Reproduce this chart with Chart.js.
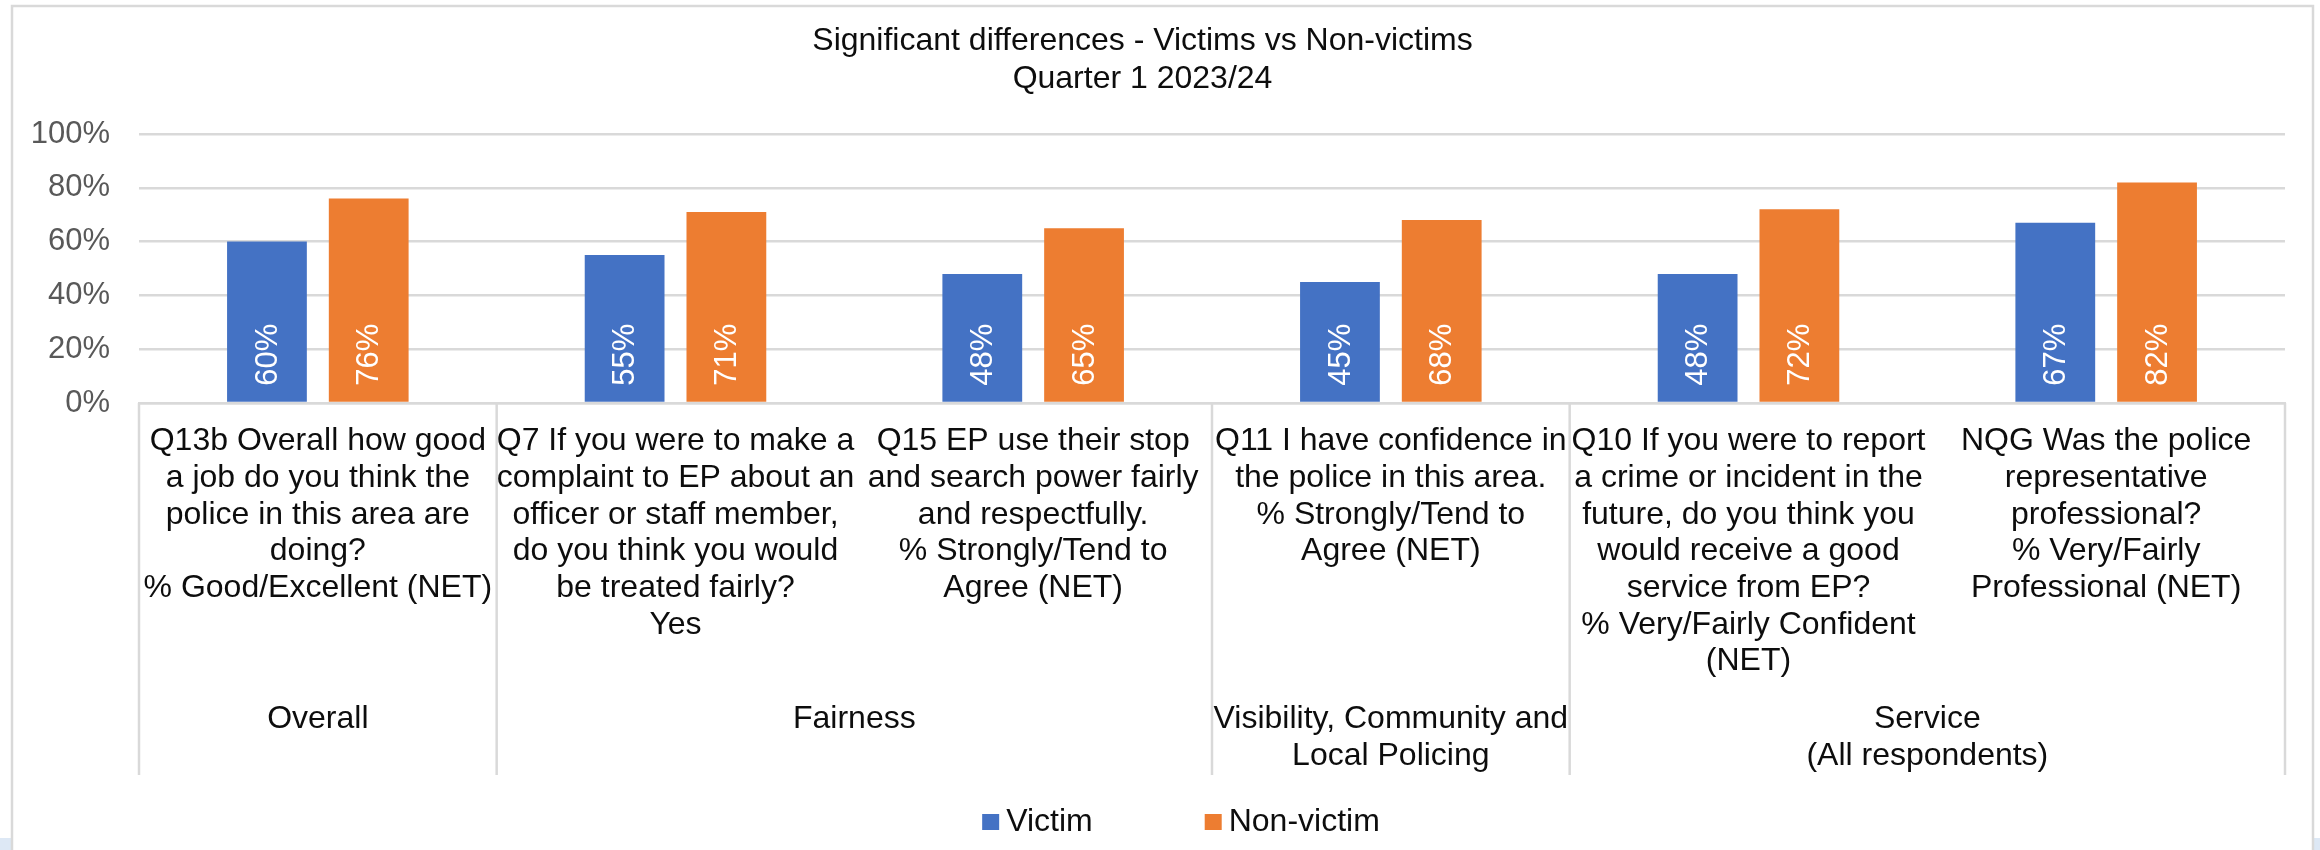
<!DOCTYPE html>
<html>
<head>
<meta charset="utf-8">
<title>Significant differences - Victims vs Non-victims</title>
<script src="https://cdn.jsdelivr.net/npm/chart.js@4.4.0/dist/chart.umd.min.js"></script>
<style>
  html, body { margin: 0; padding: 0; background: #ffffff; }
  #wrap { width: 2320px; height: 850px; position: relative; }
  canvas { display: block; }
</style>
</head>
<body>
<div id="wrap"><canvas id="chart" width="2320" height="850"></canvas></div>
<script>
// Question labels (one per category), pre-wrapped into lines
const categories = [
  ["Q13b Overall how good", "a job do you think the", "police in this area are", "doing?", "% Good/Excellent (NET)"],
  ["Q7 If you were to make a", "complaint to EP about an", "officer or staff member,", "do you think you would", "be treated fairly?", "Yes"],
  ["Q15 EP use their stop", "and search power fairly", "and respectfully.", "% Strongly/Tend to", "Agree (NET)"],
  ["Q11 I have confidence in", "the police in this area.", "% Strongly/Tend to", "Agree (NET)"],
  ["Q10 If you were to report", "a crime or incident in the", "future, do you think you", "would receive a good", "service from EP?", "% Very/Fairly Confident", "(NET)"],
  ["NQG Was the police", "representative", "professional?", "% Very/Fairly", "Professional (NET)"]
];

// Theme groups for the second label row and how many questions each covers
const groupNames = [
  ["Overall"],
  ["Fairness"],
  ["Visibility, Community and", "Local Policing"],
  ["Service", "(All respondents)"]
];
const groupSizes = [1, 2, 1, 2];

// Percentages per series
const victim = [60, 55, 48, 45, 48, 67];
const nonVictim = [76, 71, 65, 68, 72, 82];

// Value axis
const yMin = 0;
const yMax = 100;
const yStep = 20;

const titleLines = ["Significant differences - Victims vs Non-victims", "Quarter 1 2023/24"];
const seriesNames = ["Victim", "Non-victim"];
const seriesColors = ["#4472C4", "#ED7D31"];

const FONT = "'Liberation Sans', Arial, Helvetica, sans-serif";
const GRID = "#d9d9d9";

// White page, outer frame of the chart object
const framePlugin = {
  id: 'frame',
  beforeDraw(chart) {
    const ctx = chart.ctx;
    ctx.save();
    ctx.fillStyle = '#ffffff';
    ctx.fillRect(0, 0, chart.width, chart.height);
    ctx.fillStyle = '#dde8f5';
    ctx.fillRect(0, 838, 11, 12);
    ctx.fillRect(2314, 838, 6, 12);
    ctx.strokeStyle = GRID;
    ctx.lineWidth = 2.5;
    ctx.beginPath();
    ctx.moveTo(12, 850);
    ctx.lineTo(12, 6);
    ctx.lineTo(2313, 6);
    ctx.lineTo(2313, 850);
    ctx.stroke();
    ctx.restore();
  }
};

// Second category level: group separators and group names under the question labels
const groupAxisPlugin = {
  id: 'groupAxis',
  afterDraw(chart) {
    const xs = chart.scales.x;
    const ctx = chart.ctx;
    const edges = [xs.left];
    let idx = 0;
    groupSizes.forEach(n => {
      idx += n;
      if (idx < categories.length) {
        edges.push((xs.getPixelForValue(idx - 1) + xs.getPixelForValue(idx)) / 2);
      } else {
        edges.push(xs.right);
      }
    });
    ctx.save();
    ctx.strokeStyle = GRID;
    ctx.lineWidth = 2.5;
    edges.forEach(e => {
      ctx.beginPath();
      ctx.moveTo(e, xs.top);
      ctx.lineTo(e, xs.bottom);
      ctx.stroke();
    });
    ctx.font = `32px ${FONT}`;
    ctx.fillStyle = '#0d0d0d';
    ctx.textAlign = 'center';
    ctx.textBaseline = 'middle';
    groupNames.forEach((lines, i) => {
      const cx = (edges[i] + edges[i + 1]) / 2;
      lines.forEach((line, j) => ctx.fillText(line, cx, 719 + j * 37.5));
    });
    ctx.restore();
  }
};

// Rotated value labels inside the base of each bar
const barValuePlugin = {
  id: 'barValues',
  afterDatasetsDraw(chart) {
    const ctx = chart.ctx;
    ctx.save();
    ctx.font = `31px ${FONT}`;
    ctx.fillStyle = '#ffffff';
    ctx.textAlign = 'left';
    ctx.textBaseline = 'middle';
    chart.data.datasets.forEach((ds, di) => {
      chart.getDatasetMeta(di).data.forEach((bar, i) => {
        ctx.save();
        ctx.translate(bar.x, bar.base - 16);
        ctx.rotate(-Math.PI / 2);
        ctx.fillText(ds.data[i] + '%', 0, 1);
        ctx.restore();
      });
    });
    ctx.restore();
  }
};

// Legend row along the bottom
const legendRowPlugin = {
  id: 'legendRow',
  afterDraw(chart) {
    const ctx = chart.ctx;
    ctx.save();
    ctx.font = `32px ${FONT}`;
    ctx.textAlign = 'left';
    ctx.textBaseline = 'middle';
    const box = 17, gap = 7, sep = 112;
    const items = chart.data.datasets.map(d => ({
      label: d.label, color: d.backgroundColor, w: ctx.measureText(d.label).width
    }));
    const total = items.reduce((s, it) => s + box + gap + it.w, 0) + sep * (items.length - 1);
    let x = 1181 - total / 2;
    const y = 822;
    items.forEach(it => {
      ctx.fillStyle = it.color;
      ctx.fillRect(x, y - 8, box, 16);
      ctx.fillStyle = '#0d0d0d';
      ctx.fillText(it.label, x + box + gap, y);
      x += box + gap + it.w + sep;
    });
    ctx.restore();
  }
};

new Chart(document.getElementById('chart'), {
  type: 'bar',
  data: {
    labels: categories,
    datasets: [
      { label: seriesNames[0], data: victim, backgroundColor: seriesColors[0] },
      { label: seriesNames[1], data: nonVictim, backgroundColor: seriesColors[1] }
    ]
  },
  options: {
    responsive: false,
    animation: false,
    devicePixelRatio: 1,
    datasets: {
      bar: { categoryPercentage: 0.569, barPercentage: 0.784 }
    },
    layout: { padding: { left: 0, right: 35, top: 0, bottom: 75 } },
    plugins: {
      legend: { display: false },
      tooltip: { enabled: false },
      title: {
        display: true,
        text: titleLines,
        color: '#0d0d0d',
        font: { family: FONT, size: 32, weight: 'normal', lineHeight: '38px' },
        padding: { top: 22, bottom: 36 }
      }
    },
    scales: {
      x: {
        grid: { display: false, drawTicks: false },
        border: { display: true, color: GRID, width: 2.5 },
        ticks: {
          color: '#0d0d0d',
          font: { family: FONT, size: 32, lineHeight: '36.7px' },
          padding: 20,
          maxRotation: 0,
          minRotation: 0,
          autoSkip: false
        },
        afterFit(scale) { scale.height = 372; }
      },
      y: {
        min: yMin,
        max: yMax,
        grid: { color: GRID, lineWidth: 2.5, drawTicks: false },
        border: { display: false },
        ticks: {
          stepSize: yStep,
          color: '#595959',
          font: { family: FONT, size: 31 },
          padding: 29,
          callback: v => v + '%'
        },
        afterFit(scale) { scale.width = 139; }
      }
    }
  },
  plugins: [framePlugin, groupAxisPlugin, barValuePlugin, legendRowPlugin]
});
</script>
</body>
</html>
